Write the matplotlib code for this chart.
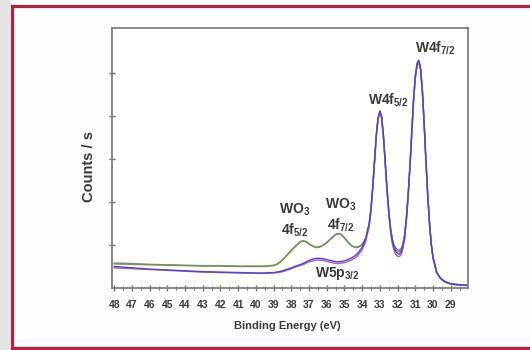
import matplotlib
matplotlib.use("Agg")
import matplotlib.pyplot as plt
from matplotlib.patches import Rectangle
from matplotlib.lines import Line2D

plt.rcParams['font.family'] = ['Liberation Sans', 'DejaVu Sans']
plt.rcParams['mathtext.fontset'] = 'custom'
plt.rcParams['mathtext.rm'] = 'Liberation Sans'
plt.rcParams['mathtext.it'] = 'Liberation Sans:italic'
plt.rcParams['mathtext.bf'] = 'Liberation Sans:bold'

# ---------------- data ----------------
energy = [48.0, 47.0, 46.0, 45.0, 44.0, 43.0, 42.0, 41.0, 40.0, 39.5, 39.0, 38.8, 38.6, 38.4,
          38.2, 38.0, 37.8, 37.6, 37.45, 37.3, 37.15, 37.0, 36.8, 36.6, 36.4, 36.2, 36.0, 35.8,
          35.6, 35.45, 35.3, 35.15, 35.0, 34.8, 34.6, 34.4, 34.2, 34.0, 33.8, 33.6, 33.5, 33.4,
          33.3, 33.2, 33.1, 33.0, 32.9, 32.8, 32.7, 32.6, 32.5, 32.4, 32.3, 32.2, 32.1, 32.0,
          31.9, 31.8, 31.7, 31.6, 31.5, 31.4, 31.3, 31.2, 31.1, 31.0, 30.9, 30.8, 30.7, 30.6,
          30.5, 30.4, 30.3, 30.2, 30.1, 30.0, 29.8, 29.6, 29.4, 29.2, 29.0, 28.6, 28.2, 28.0]

counts_green = [0.58, 0.57, 0.55, 0.54, 0.53, 0.52, 0.52, 0.51, 0.51, 0.51, 0.53, 0.56, 0.62, 0.70,
                0.79, 0.88, 0.96, 1.04, 1.09, 1.10, 1.08, 1.03, 0.98, 0.95, 0.96, 1.00, 1.06, 1.14,
                1.21, 1.26, 1.27, 1.24, 1.17, 1.07, 0.99, 0.95, 0.96, 1.02, 1.15, 1.50, 1.85, 2.35,
                2.95, 3.55, 3.95, 4.10, 3.98, 3.55, 2.95, 2.35, 1.82, 1.42, 1.16, 1.01, 0.93, 0.89,
                0.88, 0.92, 1.03, 1.25, 1.65, 2.20, 2.85, 3.60, 4.35, 4.90, 5.20, 5.28, 5.10, 4.60,
                3.85, 3.00, 2.20, 1.55, 1.05, 0.72, 0.38, 0.24, 0.17, 0.13, 0.10, 0.08, 0.07, 0.07]

counts_red = [0.56, 0.55, 0.54, 0.53, 0.52, 0.51, 0.51, 0.50, 0.50, 0.50, 0.52, 0.55, 0.61, 0.69,
              0.78, 0.87, 0.95, 1.03, 1.08, 1.09, 1.07, 1.02, 0.97, 0.94, 0.95, 0.99, 1.05, 1.13,
              1.20, 1.25, 1.26, 1.23, 1.16, 1.06, 0.98, 0.94, 0.95, 1.01, 1.14, 1.48, 1.83, 2.33,
              2.93, 3.53, 3.93, 4.08, 3.96, 3.53, 2.93, 2.33, 1.80, 1.40, 1.13, 0.98, 0.90, 0.85,
              0.84, 0.89, 1.00, 1.22, 1.62, 2.17, 2.82, 3.57, 4.32, 4.87, 5.17, 5.25, 5.07, 4.57,
              3.82, 2.97, 2.17, 1.52, 1.02, 0.70, 0.37, 0.23, 0.16, 0.12, 0.09, 0.07, 0.06, 0.06]

counts_blue = [0.50, 0.47, 0.44, 0.42, 0.40, 0.38, 0.37, 0.36, 0.35, 0.35, 0.36, 0.37, 0.39, 0.41,
               0.44, 0.47, 0.50, 0.53, 0.55, 0.58, 0.61, 0.64, 0.67, 0.69, 0.69, 0.68, 0.66, 0.64,
               0.62, 0.61, 0.61, 0.62, 0.63, 0.66, 0.70, 0.75, 0.83, 0.95, 1.15, 1.50, 1.86, 2.37,
               2.97, 3.57, 3.97, 4.12, 4.00, 3.57, 2.96, 2.34, 1.80, 1.38, 1.10, 0.94, 0.85, 0.80,
               0.79, 0.84, 0.97, 1.20, 1.62, 2.18, 2.85, 3.62, 4.38, 4.93, 5.23, 5.30, 5.12, 4.62,
               3.86, 3.00, 2.20, 1.55, 1.05, 0.72, 0.38, 0.24, 0.17, 0.13, 0.10, 0.08, 0.07, 0.07]

counts_magenta = [0.47, 0.45, 0.43, 0.41, 0.39, 0.37, 0.36, 0.35, 0.34, 0.34, 0.35, 0.36, 0.37, 0.39,
                  0.42, 0.45, 0.48, 0.51, 0.53, 0.55, 0.58, 0.61, 0.63, 0.65, 0.65, 0.64, 0.62, 0.60,
                  0.58, 0.57, 0.57, 0.58, 0.59, 0.62, 0.65, 0.70, 0.78, 0.89, 1.08, 1.44, 1.80, 2.32,
                  2.93, 3.54, 3.94, 4.09, 3.96, 3.52, 2.90, 2.28, 1.74, 1.32, 1.04, 0.87, 0.78, 0.74,
                  0.73, 0.78, 0.91, 1.15, 1.57, 2.14, 2.81, 3.58, 4.34, 4.89, 5.19, 5.26, 5.08, 4.58,
                  3.82, 2.96, 2.16, 1.52, 1.02, 0.70, 0.36, 0.23, 0.16, 0.12, 0.09, 0.07, 0.06, 0.06]

x_ticks = list(range(48, 28, -1))
y_ticks = [1, 2, 3, 4, 5]

# ---------------- figure ----------------
fig = plt.figure(figsize=(5.3, 3.5), dpi=100, facecolor='#fdfdfd')

# outer frame: grey margin left, red border lines
fig.patches.append(Rectangle((0, 0), 10 / 530, 1, transform=fig.transFigure,
                             facecolor='#e4e4e4', edgecolor='none', zorder=0))
fig.add_artist(Line2D([11.5 / 530, 11.5 / 530], [2.5 / 350, 344.5 / 350],
                      transform=fig.transFigure, color='#b5203a', lw=2.3))
fig.add_artist(Line2D([11.5 / 530, 1.0], [344.5 / 350, 344.5 / 350],
                      transform=fig.transFigure, color='#b5203a', lw=2.3))
fig.add_artist(Line2D([11.5 / 530, 1.0], [2.5 / 350, 2.5 / 350],
                      transform=fig.transFigure, color='#b5203a', lw=2.3))

ax = fig.add_axes([111.6 / 530, 62 / 350, 355.9 / 530, 260 / 350])
ax.set_facecolor('white')

ax.plot(energy, counts_red, color='#c8705e', lw=1.0)
ax.plot(energy, counts_green, color='#5c9c5a', lw=1.0)
ax.plot(energy, counts_magenta, color='#b455c8', lw=1.0)
ax.plot(energy, counts_blue, color='#4646d2', lw=1.0)

ax.set_xlim(48.15, 28.05)
ax.set_ylim(0, 6.05)
ax.set_xticks(x_ticks)
ax.set_xticklabels([str(t) for t in x_ticks], fontweight='bold')
ax.set_xticks([t - 0.5 for t in x_ticks], minor=True)
ax.set_yticks(y_ticks)
ax.set_yticklabels([])

for s in ax.spines.values():
    s.set_color('#808080')
    s.set_linewidth(1.3)

ax.tick_params(axis='x', which='major', direction='inout', length=5, width=1.0,
               color='#707070', labelsize=7.5, pad=6, labelcolor='#3a3a3a')
ax.tick_params(axis='x', which='minor', direction='inout', length=3, width=0.8, color='#707070')
ax.tick_params(axis='y', which='major', direction='inout', length=5, width=1.0, color='#707070')

fig.text(287 / 530, 1 - 326 / 350, 'Binding Energy (eV)', ha='center', va='center',
         fontsize=8, fontweight='bold', color='#3a3a3a')
fig.text(89 / 530, 1 - 166 / 350, 'Counts / s', ha='center', va='center', rotation=90,
         fontsize=10.5, fontweight='bold', color='#3a3a3a')

def label(xpix, ypix, s):
    fig.text(xpix / 530, 1 - ypix / 350, s, ha='center', va='center', fontsize=10,
             fontweight='bold', color='#3a3a3a', linespacing=1.25)

label(435, 48, r'W4f$_{\mathbf{7/2}}$')
label(388, 100, r'W4f$_{\mathbf{5/2}}$')
label(295, 220, 'WO$_{\\mathbf{3}}$\n4f$_{\\mathbf{5/2}}$')
label(341, 215, 'WO$_{\\mathbf{3}}$\n4f$_{\\mathbf{7/2}}$')
label(337, 274, r'W5p$_{\mathbf{3/2}}$')

fig.savefig('out.png', dpi=100, facecolor=fig.get_facecolor())
